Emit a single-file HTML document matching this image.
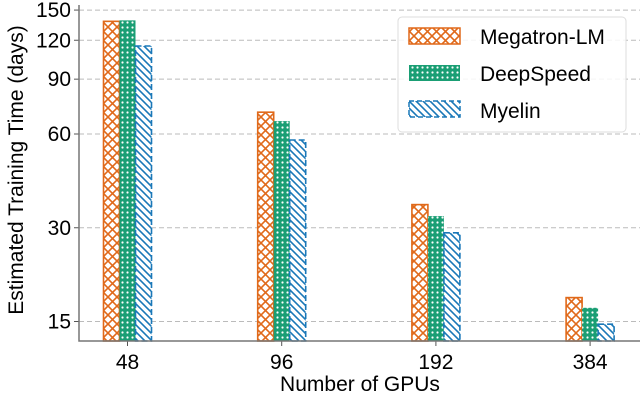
<!DOCTYPE html>
<html><head><meta charset="utf-8"><style>
html,body{margin:0;padding:0;background:#fff;}
svg{display:block;font-family:"Liberation Sans",sans-serif;}
</style></head><body>
<svg id="chart" width="640" height="401" viewBox="0 0 640 401" xmlns="http://www.w3.org/2000/svg">
<defs>
<pattern id="pX" patternUnits="userSpaceOnUse" width="9" height="9">
<rect width="9" height="9" fill="#fff"/>
<path d="M0,0 L9,9 M9,0 L0,9" stroke="#e0691a" stroke-width="1.6"/>
</pattern>
<pattern id="pO" patternUnits="userSpaceOnUse" width="5" height="5">
<rect width="5" height="5" fill="#1a9e74"/>
<circle cx="2.5" cy="2.5" r="1.1" fill="#fff"/>
</pattern>
<pattern id="pD" patternUnits="userSpaceOnUse" width="7" height="7">
<rect width="7" height="7" fill="#fff"/>
<path d="M-1,-1 L8,8 M-1,6 L1,8 M6,-1 L8,1" stroke="#1a78b8" stroke-width="1.6"/>
</pattern>
</defs>
<g id="grid"></g>
<g id="bars"></g>
<g id="axes"></g>
<g id="legend">
<rect x="398" y="17" width="228" height="115" rx="4" fill="#fff" fill-opacity="0.85" stroke="#ddd"/>
<rect x="409" y="28" width="51" height="16" fill="url(#pX)" stroke="#e0691a" stroke-width="1.5"/>
<text x="480" y="44" font-size="21">Megatron-LM</text>
<rect x="409" y="65" width="51" height="16" fill="url(#pO)"/>
<text x="480" y="81" font-size="21">DeepSpeed</text>
<rect x="409" y="101" width="51" height="16" fill="url(#pD)" stroke="#1a78b8" stroke-width="1.5" stroke-dasharray="5,3"/>
<text x="480" y="118" font-size="21">Myelin</text>
</g>
</svg>
<script>
const categories = ["48", "96", "192", "384"];
const megatron = [138, 70.5, 35.6, 17.9];
const deepspeed = [139, 66, 32.7, 16.6];
const myelin = [115, 57.4, 28.9, 14.7];
const yTicks = [15, 30, 60, 90, 120, 150];

const NS = "http://www.w3.org/2000/svg";
const x0 = 79, yBase = 341;
function yScale(v){ return 134 - 93.75 * Math.log2(v / 60); }
function xCenter(i){ return 127.5 + i * 154.2; }
function mk(tag, attrs, parent){
  const e = document.createElementNS(NS, tag);
  for (const k in attrs) e.setAttribute(k, attrs[k]);
  parent.appendChild(e); return e;
}
const grid = document.getElementById('grid');
const axes = document.getElementById('axes');
const bars = document.getElementById('bars');
yTicks.forEach(t => {
  const y = yScale(t);
  const l = mk('line', {x1: x0, x2: 640, y1: y, y2: y, stroke: '#bbb', 'stroke-dasharray': '5,3', 'stroke-width': 1}, grid);
  
  
  mk('line', {x1: x0 - 5, x2: x0, y1: y, y2: y, stroke: '#555'}, axes);
  const tx = mk('text', {x: x0 - 8, y: y + 7, 'font-size': 21, 'text-anchor': 'end'}, axes);
  tx.textContent = t;
  
  
});
const series = [
  {d: megatron, fill: 'url(#pX)', stroke: '#e0691a', name: 'megatron', off: -16, dash: ''},
  {d: deepspeed, fill: 'url(#pO)', stroke: 'none', name: 'deepspeed', off: 0, dash: ''},
  {d: myelin, fill: 'url(#pD)', stroke: '#1a78b8', name: 'myelin', off: 16, dash: '6,3'}
];
const bw = 16;
series.forEach(s => {
  s.d.forEach((v, i) => {
    const y = yScale(v);
    const r = mk('rect', {x: xCenter(i) + s.off - bw/2, y: y, width: bw, height: yBase - y, fill: s.fill, stroke: s.stroke, 'stroke-width': 1.6}, bars);
    if (s.dash) r.setAttribute('stroke-dasharray', s.dash);
    
    
  });
});
categories.forEach((c, i) => {
  const x = xCenter(i);
  mk('line', {x1: x, x2: x, y1: yBase, y2: yBase + 5, stroke: '#555'}, axes);
  const t = mk('text', {x: x, y: yBase + 28, 'font-size': 21, 'text-anchor': 'middle'}, axes);
  t.textContent = c;
  
  
});
const ax = mk('path', {d: `M${x0},5 L${x0},${yBase} L640,${yBase}`, fill: 'none', stroke: '#777', 'stroke-width': 1.5}, axes);


const xt = mk('text', {x: 360, y: 391, 'font-size': 21, 'text-anchor': 'middle'}, axes);
xt.textContent = 'Number of GPUs';


const yt = mk('text', {x: 0, y: 0, 'font-size': 21, 'text-anchor': 'middle', transform: 'translate(23,170) rotate(-90)'}, axes);
yt.textContent = 'Estimated Training Time (days)';


</script>
</body></html>
